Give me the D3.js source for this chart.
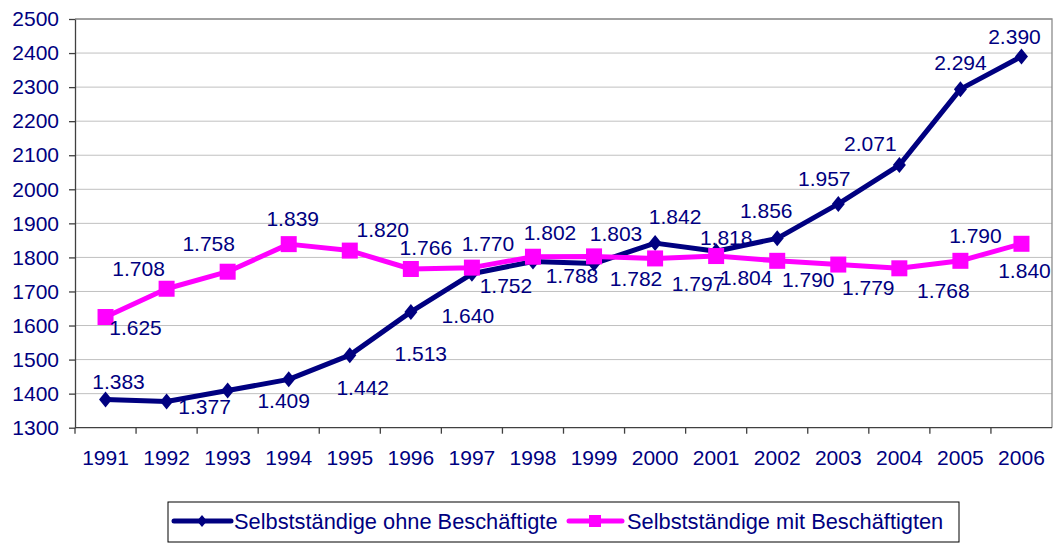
<!doctype html>
<html lang="de">
<head>
  <meta charset="utf-8">
  <title>Selbstständige 1991-2006</title>
  <style>
    body { margin: 0; background: #fff; }
    svg text {
      font-family: "Liberation Sans", Arial, sans-serif;
      fill: #000080;
    }
    .grid line { stroke: #c0c0c0; stroke-width: 1; }
    .axis path, .axis line { stroke: #404040; stroke-width: 1.3; }
  </style>
</head>
<body>
<svg width="1056" height="543"></svg>
<script src="https://d3js.org/d3.v7.min.js"></script>
<script>
  // data
  var years = ["1991", "1992", "1993", "1994", "1995", "1996", "1997", "1998",
    "1999", "2000", "2001", "2002", "2003", "2004", "2005", "2006"];
  var ohne = [1383, 1377, 1409, 1442, 1513, 1640, 1752, 1788,
    1782, 1842, 1818, 1856, 1957, 2071, 2294, 2390];
  var mit = [1625, 1708, 1758, 1839, 1820, 1766, 1770, 1802,
    1803, 1797, 1804, 1790, 1779, 1768, 1790, 1840];
  var yTicks = [1300, 1400, 1500, 1600, 1700, 1800, 1900, 2000,
    2100, 2200, 2300, 2400, 2500];
  var seriesNames = ["Selbstständige ohne Beschäftigte", "Selbstständige mit Beschäftigten"];

  // label placement (offset of label centre from point, px)
  var ohneLabelOff = [[13, -18], [38, 5], [56, 10], [74, 8], [71, -2], [57, 4], [34, 12], [39, 14],
    [42, 15], [20, -27], [10, -14], [-11, -28], [-14, -25], [-29, -22], [0, -27], [-7, -20]];
  var mitLabelOff = [[30, 10], [-28, -20], [-19, -28], [4, -26], [33, -21], [15, -21], [16, -24], [17, -24],
    [22, -23], [43, 25], [30, 21], [31, 19], [30, 23], [44, 22], [15, -25], [3, 27]];

  var svg = d3.select("svg");
  var plotL = 75, plotR = 1052, plotT = 19, plotB = 427.7;

  var x = d3.scaleBand().domain(years).range([plotL, plotR]);
  var y = d3.scaleLinear().domain([1300, 2500]).range([plotB, plotT]);
  var fmt = function (v) { return d3.format(",")(v).replace(",", "."); };

  // gridlines
  svg.append("g").attr("class", "grid")
    .selectAll("line")
    .data(yTicks.slice(1))
    .enter().append("line")
    .attr("x1", plotL).attr("x2", plotR)
    .attr("y1", function (d) { return y(d); })
    .attr("y2", function (d) { return y(d); });

  // plot border (top / right)
  svg.append("path")
    .attr("d", "M" + plotL + "," + plotT + "H" + plotR + "V" + plotB)
    .attr("fill", "none").attr("stroke", "#8c8c8c").attr("stroke-width", 1.3);

  // y axis
  var yAxis = svg.append("g").attr("class", "axis")
    .attr("transform", "translate(" + plotL + ",0)")
    .call(d3.axisLeft(y).tickValues(yTicks).tickFormat(d3.format("d"))
      .tickSize(6).tickSizeOuter(0).tickPadding(10));
  yAxis.selectAll("text").attr("font-size", 21).attr("font-family", null).style("fill", "#000080");

  // x axis (ticks between categories)
  var xAxis = svg.append("g").attr("class", "axis")
    .attr("transform", "translate(0," + plotB + ")");
  xAxis.append("line").attr("x1", plotL).attr("x2", plotR);
  xAxis.selectAll(".tk")
    .data(years)
    .enter().append("line").attr("class", "tk")
    .attr("x1", function (d) { return x(d); })
    .attr("x2", function (d) { return x(d); })
    .attr("y1", 0).attr("y2", 6);
  xAxis.selectAll("text")
    .data(years)
    .enter().append("text")
    .attr("x", function (d) { return x(d) + x.bandwidth() / 2; })
    .attr("y", 37.5)
    .attr("text-anchor", "middle")
    .attr("font-size", 21)
    .text(function (d) { return d; });

  var cx = function (d, i) { return x(years[i]) + x.bandwidth() / 2; };
  var line = d3.line()
    .x(function (d, i) { return cx(d, i); })
    .y(function (d) { return y(d); });

  // series lines
  svg.append("path").datum(ohne)
    .attr("d", line).attr("fill", "none")
    .attr("stroke", "#000080").attr("stroke-width", 5).attr("stroke-linejoin", "round");
  svg.append("path").datum(mit)
    .attr("d", line).attr("fill", "none")
    .attr("stroke", "#ff00ff").attr("stroke-width", 5).attr("stroke-linejoin", "round");

  // markers
  svg.append("g").selectAll("path")
    .data(ohne)
    .enter().append("path")
    .attr("d", "M0,-8L6.5,0L0,8L-6.5,0Z")
    .attr("fill", "#000080")
    .attr("transform", function (d, i) { return "translate(" + cx(d, i) + "," + y(d) + ")"; });
  svg.append("g").selectAll("rect")
    .data(mit)
    .enter().append("rect")
    .attr("x", function (d, i) { return cx(d, i) - 8; })
    .attr("y", function (d) { return y(d) - 8; })
    .attr("width", 16).attr("height", 16)
    .attr("fill", "#ff00ff");

  // data labels
  function labels(data, off) {
    svg.append("g").selectAll("text")
      .data(data)
      .enter().append("text")
      .attr("x", function (d, i) { return cx(d, i) + off[i][0]; })
      .attr("y", function (d, i) { return y(d) + off[i][1] + 7.5; })
      .attr("text-anchor", "middle")
      .attr("font-size", 21)
      .text(fmt);
  }
  labels(mit, mitLabelOff);
  labels(ohne, ohneLabelOff);

  // legend
  var lg = svg.append("g");
  lg.append("rect")
    .attr("x", 168).attr("y", 502).attr("width", 791).attr("height", 40)
    .attr("fill", "#fff").attr("stroke", "#000").attr("stroke-width", 1);
  var ly = 521;
  lg.append("line").attr("x1", 174).attr("x2", 231).attr("y1", ly).attr("y2", ly)
    .attr("stroke", "#000080").attr("stroke-width", 5).attr("stroke-linecap", "round");
  lg.append("path").attr("d", "M0,-6L5,0L0,6L-5,0Z").attr("fill", "#000080")
    .attr("transform", "translate(202," + ly + ")");
  lg.append("text").attr("x", 234).attr("y", ly + 7.5).attr("font-size", 21.8).text(seriesNames[0]);
  lg.append("line").attr("x1", 569).attr("x2", 622).attr("y1", ly).attr("y2", ly)
    .attr("stroke", "#ff00ff").attr("stroke-width", 5).attr("stroke-linecap", "round");
  lg.append("rect").attr("x", 589).attr("y", ly - 6).attr("width", 12).attr("height", 12)
    .attr("fill", "#ff00ff");
  lg.append("text").attr("x", 627).attr("y", ly + 7.5).attr("font-size", 21.8).text(seriesNames[1]);
</script>
</body>
</html>
